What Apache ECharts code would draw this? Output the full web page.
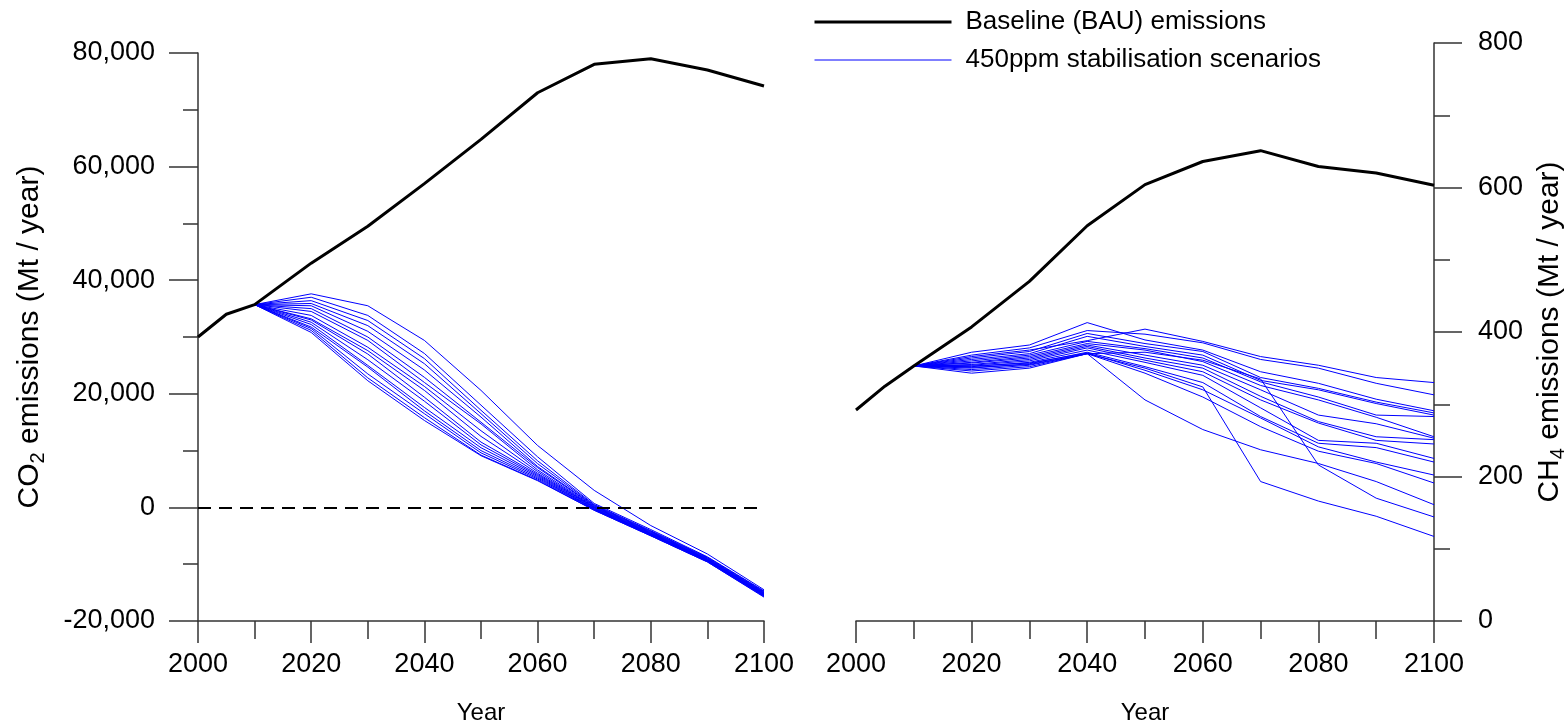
<!DOCTYPE html>
<html>
<head>
<meta charset="utf-8">
<script src="https://cdn.jsdelivr.net/npm/echarts@6/dist/echarts.min.js"></script>
<style>
html,body{margin:0;padding:0;background:#fff;}
#chart{width:1568px;height:724px;}
</style>
</head>
<body>
<div id="chart"></div>
<script>
// ---- Data ----
const bauYears = [2000, 2005, 2010, 2020, 2030, 2040, 2050, 2060, 2070, 2080, 2090, 2100];
const co2Baseline = [30000, 34000, 35700, 43000, 49500, 57000, 64800, 73000, 78000, 79000, 77000, 74200];
const ch4Baseline = [292, 325, 353, 407, 470, 547, 604, 636, 651, 629, 620, 603];

const scenarioYears = [2010, 2020, 2030, 2040, 2050, 2060, 2070, 2080, 2090, 2100];
const co2Scenarios = [
  [35700, 37600, 35500, 29400, 20600, 10900, 3000, -3200, -8200, -14500],
  [35700, 37000, 33800, 27100, 18000, 8900, 700, -3900, -8700, -14700],
  [35700, 36400, 32900, 26200, 17100, 8200, 500, -4100, -8800, -14800],
  [35700, 35900, 32000, 25300, 16500, 7700, 400, -4200, -8900, -14900],
  [35700, 35500, 31000, 24200, 15900, 7200, 300, -4300, -9000, -15000],
  [35700, 35000, 30000, 22900, 15000, 7000, 200, -4400, -9100, -15100],
  [35700, 34500, 29400, 22000, 14700, 6600, 100, -4500, -9100, -15100],
  [35700, 33800, 28200, 21300, 13500, 6300, 0, -4600, -9200, -15200],
  [35700, 33200, 27600, 20600, 12500, 6000, 0, -4600, -9300, -15300],
  [35700, 33000, 27000, 19400, 11500, 5800, -100, -4700, -9300, -15300],
  [35700, 32600, 26000, 18700, 11000, 5600, -200, -4800, -9400, -15400],
  [35700, 32200, 25000, 17600, 10500, 5400, -300, -4800, -9400, -15500],
  [35700, 31750, 24700, 17000, 10000, 5200, -300, -4900, -9500, -15500],
  [35700, 31500, 23500, 16500, 9600, 5000, -400, -4900, -9500, -15600],
  [35700, 31160, 22800, 15800, 9200, 4800, -500, -5000, -9600, -15700],
  [35700, 30800, 22300, 15300, 9100, 4700, -500, -5000, -9600, -15800]
];
const ch4Scenarios = [
  [353, 366, 375, 388, 404, 387, 366, 354, 337, 330],
  [353, 368, 378, 402, 397, 385, 362, 350, 329, 313],
  [353, 372, 382, 413, 389, 375, 345, 329, 307, 291],
  [353, 364, 373, 398, 384, 373, 337, 322, 303, 288],
  [353, 362, 370, 394, 380, 368, 333, 320, 301, 285],
  [353, 360, 368, 387, 377, 364, 331, 310, 285, 283],
  [353, 358, 366, 384, 375, 359, 326, 306, 282, 255],
  [353, 357, 364, 382, 368, 354, 320, 285, 273, 253],
  [353, 355, 362, 380, 364, 350, 311, 276, 255, 251],
  [353, 354, 360, 378, 361, 345, 306, 274, 250, 245],
  [353, 352, 358, 375, 358, 340, 295, 250, 246, 225],
  [353, 350, 356, 372, 352, 330, 283, 246, 240, 220],
  [353, 348, 354, 370, 350, 324, 193, 166, 145, 117],
  [353, 346, 352, 370, 372, 361, 335, 216, 170, 144],
  [353, 343, 350, 370, 306, 265, 237, 218, 193, 161],
  [353, 353, 357, 371, 347, 320, 281, 241, 220, 202],
  [353, 351, 355, 370, 343, 310, 269, 235, 218, 191]
];
const co2ZeroLevel = 0;
const xTickLabels = [2000, 2020, 2040, 2060, 2080, 2100];

const BAU_NAME = 'Baseline (BAU) emissions';
const SCEN_NAME = '450ppm stabilisation scenarios';

// ---- Chart ----
const FONT = '"Liberation Sans", Arial, Helvetica, sans-serif';
const AX = '#333';
const pair = (xs, ys) => xs.map((x, i) => [x, ys[i]]);

function xAxisFor(gi) {
  return {
    type: 'value', gridIndex: gi, min: 2000, max: 2100, interval: 20,
    axisLine: { show: true, onZero: false, lineStyle: { color: AX, width: 1.5 } },
    axisTick: { show: true, length: 22, lineStyle: { color: AX, width: 1.5 } },
    minorTick: { show: true, splitNumber: 2, length: 18, lineStyle: { color: AX, width: 1.5 } },
    splitLine: { show: false },
    axisLabel: { fontSize: 27, fontFamily: FONT, color: '#000', margin: 30,
      formatter: v => xTickLabels.includes(v) ? String(v) : '' },
    name: 'Year', nameLocation: 'middle', nameGap: 80,
    nameTextStyle: { fontSize: 24, fontFamily: FONT, color: '#000' }
  };
}

const series = [];
co2Scenarios.forEach(row => {
  series.push({ type: 'line', name: SCEN_NAME, xAxisIndex: 0, yAxisIndex: 0,
    data: pair(scenarioYears, row), symbol: 'none', showSymbol: false, silent: true,
    lineStyle: { color: '#0000ff', width: 1 }, itemStyle: { color: '#0000ff' }, z: 2 });
});
ch4Scenarios.forEach(row => {
  series.push({ type: 'line', name: SCEN_NAME, xAxisIndex: 1, yAxisIndex: 1,
    data: pair(scenarioYears, row), symbol: 'none', showSymbol: false, silent: true,
    lineStyle: { color: '#0000ff', width: 1 }, itemStyle: { color: '#0000ff' }, z: 2 });
});
series.push({ type: 'line', name: BAU_NAME, xAxisIndex: 0, yAxisIndex: 0,
  data: pair(bauYears, co2Baseline), symbol: 'none', showSymbol: false, silent: true,
  lineStyle: { color: '#000', width: 3 }, itemStyle: { color: '#000' }, z: 3,
  markLine: { silent: true, symbol: ['none', 'none'], label: { show: false },
    lineStyle: { color: '#000', width: 2, type: [13, 8] },
    data: [{ yAxis: co2ZeroLevel }] } });
series.push({ type: 'line', name: BAU_NAME, xAxisIndex: 1, yAxisIndex: 1,
  data: pair(bauYears, ch4Baseline), symbol: 'none', showSymbol: false, silent: true,
  lineStyle: { color: '#000', width: 3 }, itemStyle: { color: '#000' }, z: 3 });

const titleRich = {
  t: { fontSize: 30, lineHeight: 36, fontFamily: FONT, color: '#000' },
  s: { fontSize: 20, lineHeight: 22, verticalAlign: 'bottom', fontFamily: FONT, color: '#000' }
};

const option = {
  animation: false,
  backgroundColor: '#fff',
  textStyle: { fontFamily: FONT },
  legend: {
    data: [
      { name: BAU_NAME, lineStyle: { width: 3, color: '#000' } },
      { name: SCEN_NAME, lineStyle: { width: 1, color: '#0000ff' } }
    ],
    orient: 'vertical', left: 813, top: 9, padding: 0,
    itemWidth: 137, itemHeight: 26, itemGap: 12, selectedMode: false,
    itemStyle: { opacity: 0 },
    textStyle: { fontSize: 26, fontFamily: FONT, color: '#000', padding: [0, 0, 0, 9] }
  },
  grid: [
    { left: 198, top: 53, width: 566, height: 568, outerBoundsMode: 'none', containLabel: false },
    { left: 856, top: 43, width: 578, height: 578, outerBoundsMode: 'none', containLabel: false }
  ],
  xAxis: [xAxisFor(0), xAxisFor(1)],
  yAxis: [
    { type: 'value', gridIndex: 0, min: -20000, max: 80000, interval: 20000,
      axisLine: { show: true, lineStyle: { color: AX, width: 1.5 } },
      axisTick: { show: true, length: 29, lineStyle: { color: AX, width: 1.5 } },
      minorTick: { show: true, splitNumber: 2, length: 15, lineStyle: { color: AX, width: 1.5 } },
      splitLine: { show: false },
      axisLabel: { fontSize: 27, fontFamily: FONT, color: '#000', margin: 43,
        formatter: v => v.toLocaleString('en-US') },
      name: '{t|CO}{s|2}{t| emissions (Mt / year)}', nameLocation: 'middle', nameRotate: 90, nameGap: 150,
      nameTextStyle: { fontFamily: FONT, color: '#000', rich: titleRich }
    },
    { type: 'value', gridIndex: 1, position: 'right', min: 0, max: 800, interval: 200,
      axisLine: { show: true, lineStyle: { color: AX, width: 1.5 } },
      axisTick: { show: true, length: 28, lineStyle: { color: AX, width: 1.5 } },
      minorTick: { show: true, splitNumber: 2, length: 16, lineStyle: { color: AX, width: 1.5 } },
      splitLine: { show: false },
      axisLabel: { fontSize: 27, fontFamily: FONT, color: '#000', margin: 44 },
      name: '{t|CH}{s|4}{t| emissions (Mt / year)}', nameLocation: 'middle', nameRotate: 90, nameGap: 98,
      nameTextStyle: { fontFamily: FONT, color: '#000', rich: titleRich }
    }
  ],
  series: series
};

const chart = echarts.init(document.getElementById('chart'), null, { renderer: 'canvas' });
chart.setOption(option);
</script>
</body>
</html>
